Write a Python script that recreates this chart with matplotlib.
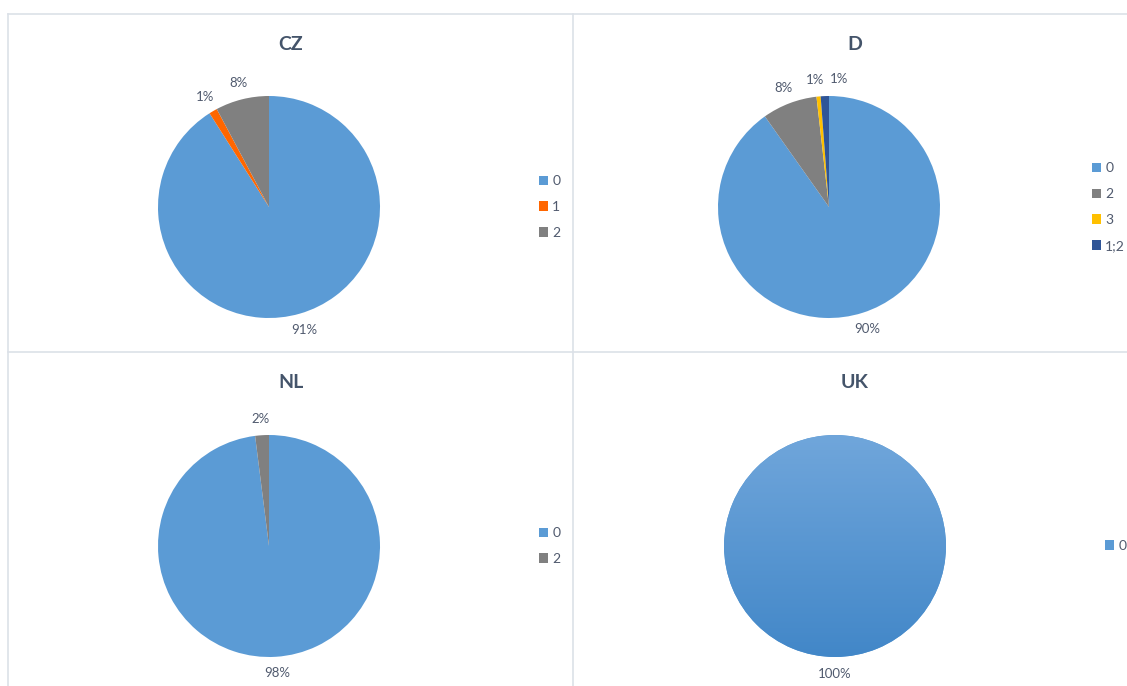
import matplotlib.pyplot as plt
import numpy as np
from matplotlib.lines import Line2D

W, H = 1127, 686
R = 111  # pie radius in px

plt.rcParams['font.family'] = ['Lato', 'DejaVu Sans']

title_color = '#44546A'
text_color = '#505A6E'
grid_color = '#DCE1E8'

# category colours
colors = {'0': '#5B9BD5', '1': '#FF6600', '2': '#808080', '3': '#FFC000', '1;2': '#2F5597'}

cz_labels = ['0', '1', '2']
cz_values = [91.0, 1.2, 7.8]
d_labels = ['0', '2', '3', '1;2']
d_values = [90.2, 8.0, 0.6, 1.2]
nl_labels = ['0', '2']
nl_values = [98.0, 2.0]
uk_labels = ['0']
uk_values = [100.0]

panels = [
    # title, labels, values, pie centre (px), title x, legend x
    ('CZ', cz_labels, cz_values, (269, 207), 291, 539),
    ('D', d_labels, d_values, (829, 207), 855, 1092),
    ('NL', nl_labels, nl_values, (269, 546), 291, 539),
    ('UK', uk_labels, uk_values, (835, 546), 855, 1105),
]

fig = plt.figure(figsize=(W / 100, H / 100), dpi=100)
fig.patch.set_facecolor('white')

# panel borders
def fline(x0, y0, x1, y1):
    fig.add_artist(Line2D([x0 / W, x1 / W], [1 - y0 / H, 1 - y1 / H],
                          color=grid_color, lw=1.2, transform=fig.transFigure))

fline(8, 14, W, 14)
fline(8, 14, 8, H)
fline(573, 14, 573, H)
fline(8, 352, W, 352)


def pct(p):
    return f'{p:.0f}%'


for title, labels, values, (cx, cy), tx, lx in panels:
    h = 1.25 * R
    ax = fig.add_axes([(cx - h) / W, 1 - (cy + h) / H, 2 * h / W, 2 * h / H])
    cols = [colors[l] for l in labels]
    wedges, texts, autotexts = ax.pie(values, colors=cols, startangle=90, counterclock=False,
                                      autopct=pct, pctdistance=1.15, radius=1,
                                      wedgeprops=dict(linewidth=0),
                                      textprops=dict(color=text_color, fontsize=9.5))
    ax.set_xlim(-1.25, 1.25)
    ax.set_ylim(-1.25, 1.25)
    ax.set_aspect('equal')
    ax.axis('off')

    if title == 'D':
        # spread the two small labels apart
        x, y = autotexts[3].get_position()
        autotexts[3].set_position((x + 0.13, y))
        x, y = autotexts[2].get_position()
        autotexts[2].set_position((x - 0.02, y))

    if title == 'UK':
        # vertical shading on the single slice
        grad = np.linspace(0, 1, 256).reshape(-1, 1)
        top = np.array([112, 166, 219]) / 255
        bot = np.array([66, 135, 200]) / 255
        img = top + (bot - top) * grad[..., None]
        img = np.repeat(img, 2, axis=1)
        im = ax.imshow(img, extent=(-1, 1, -1, 1), origin='upper', zorder=wedges[0].get_zorder() + 0.1)
        im.set_clip_path(wedges[0])
        ax.set_xlim(-1.25, 1.25)
        ax.set_ylim(-1.25, 1.25)

    fig.text(tx / W, 1 - (cy - 163) / H, title, ha='center', va='center', fontsize=14,
             fontweight='bold', color=title_color)

    fig.legend(wedges, labels, loc='center left',
               bbox_to_anchor=(lx / W, 1 - cy / H), frameon=False,
               handlelength=0.65, handleheight=0.65, handletextpad=0.3,
               labelspacing=1.0, fontsize=10, labelcolor=text_color,
               borderaxespad=0, borderpad=0)

fig.savefig('out.png', dpi=100, facecolor='white')
